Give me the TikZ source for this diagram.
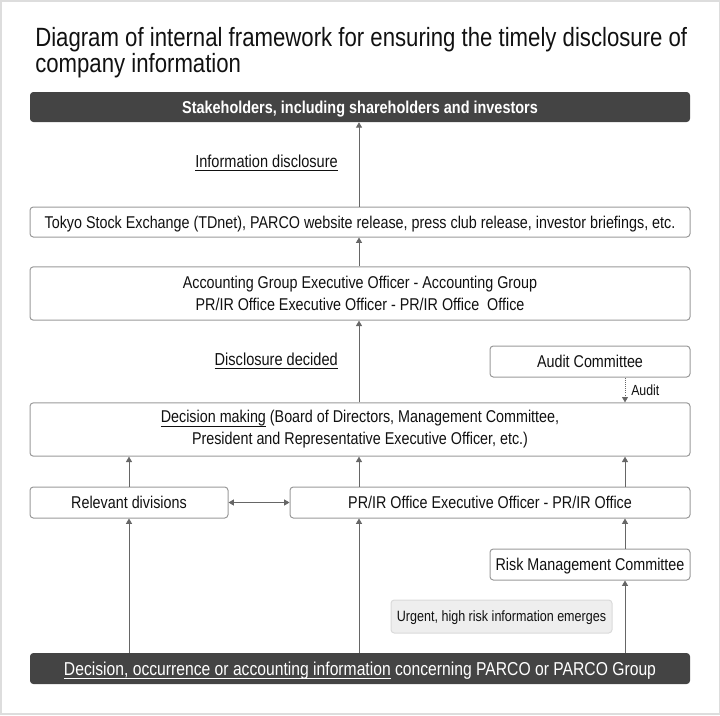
\documentclass[tikz,border=0pt]{standalone}
\usepackage{fontspec}
\setmainfont{Liberation Sans}[FakeStretch=0.84]
\usetikzlibrary{arrows.meta}
\definecolor{darkbar}{HTML}{444444}
\definecolor{boxline}{HTML}{9A9A9A}
\definecolor{arrline}{HTML}{666666}
\definecolor{frameline}{HTML}{DDDDDD}
\definecolor{urgentfill}{HTML}{EEEEEE}
\definecolor{urgentline}{HTML}{DADADA}
\definecolor{textcol}{HTML}{111111}
\newcommand{\myul}[1]{{\setbox0\hbox{#1}\rlap{\rule[-2.6pt]{\wd0}{0.6pt}}\box0}}
\begin{document}
\begin{tikzpicture}[x=0.75pt,y=-0.75pt,
  box/.style={draw=boxline,line width=0.75pt,rounded corners=2.5pt,fill=white,text=textcol,
    font=\fontsize{12.8pt}{16.5pt}\selectfont,inner sep=0pt,align=center},
  bar/.style={fill=darkbar,rounded corners=2.5pt,text=white,inner sep=0pt,align=center},
  oneline/.style={text depth=0pt},
  arr/.style={draw=arrline,line width=0.6pt,-{Triangle[width=4.5pt,length=4pt]}},
  lbl/.style={text=textcol,font=\fontsize{13pt}{14pt}\selectfont,inner sep=0pt}]
\useasboundingbox (0,0) rectangle (720,715);
\draw[frameline,line width=1.5pt] (0.5,0.5) rectangle (719.5,714);
\node[anchor=west,text=textcol,align=left,inner sep=0pt,font=\fontsize{19.8pt}{19.5pt}\selectfont]
  (title) at (35,53) {Diagram of internal framework for ensuring the timely disclosure of\\company information};
\node[bar,oneline,minimum width=495pt,minimum height=22.5pt,font=\fontsize{12.9pt}{14pt}\bfseries\selectfont] (top) at (360,107)
  {Stakeholders, including shareholders and investors};
\node[box,oneline,minimum width=495pt,minimum height=22.5pt] (tse) at (360,222)
  {Tokyo Stock Exchange (TDnet), PARCO website release, press club release, investor briefings, etc.};
\node[box,minimum width=495pt,minimum height=40pt] (acc) at (360,293.5)
  {Accounting Group Executive Officer - Accounting Group\\PR/IR Office Executive Officer - PR/IR Office\ \ Office};
\node[box,oneline,minimum width=150pt,minimum height=23.25pt] (audit) at (590,361.5) {Audit Committee};
\node[box,minimum width=495pt,minimum height=40pt] (dec) at (360,429.5)
  {\myul{Decision making} (Board of Directors, Management Committee,\\President and Representative Executive Officer, etc.)};
\node[box,oneline,minimum width=148.5pt,minimum height=23.25pt] (rel) at (129,502.5) {Relevant divisions};
\node[box,oneline,minimum width=300pt,minimum height=23.25pt] (prir) at (490,502.5) {PR/IR Office Executive Officer - PR/IR Office};
\node[box,oneline,minimum width=150pt,minimum height=23.25pt] (risk) at (590,564.5) {Risk Management Committee};
\node[box,oneline,draw=urgentline,fill=urgentfill,minimum width=165.75pt,minimum height=24.75pt,
  font=\fontsize{11.2pt}{12pt}\selectfont] (urg) at (501.5,616.5) {Urgent, high risk information emerges};
\node[bar,oneline,minimum width=495pt,minimum height=23.25pt,font=\fontsize{14pt}{16pt}\selectfont] (bot) at (360,668.5)
  {\myul{Decision, occurrence or accounting information} concerning PARCO or PARCO Group};
\coordinate (cl) at (129,0);
\coordinate (cm) at (359,0);
\coordinate (cr) at (625,0);
\node[lbl,anchor=east] (l1) at (338,163) {\myul{Information disclosure}};
\node[lbl,anchor=east] (l2) at (338,361) {\myul{Disclosure decided}};
\node[lbl,anchor=west,font=\fontsize{11pt}{12pt}\selectfont] (l3) at (631,390) {Audit};
% connectors
\draw[arr] (tse.north -| cm) -- (top.south -| cm);
\draw[arr] (acc.north -| cm) -- (tse.south -| cm);
\draw[arr] (dec.north -| cm) -- (acc.south -| cm);
\draw[arr,densely dotted] (audit.south -| cr) -- (dec.north -| cr);
\draw[arr] (rel.north -| cl) -- (dec.south -| cl);
\draw[arr] (prir.north -| cm) -- (dec.south -| cm);
\draw[arr] (prir.north -| cr) -- (dec.south -| cr);
\draw[arr,{Triangle[width=4.5pt,length=4pt]}-{Triangle[width=4.5pt,length=4pt]}] (rel.east) -- (prir.west);
\draw[arr] (bot.north -| cl) -- (rel.south -| cl);
\draw[arr] (bot.north -| cm) -- (prir.south -| cm);
\draw[arr] (risk.north -| cr) -- (prir.south -| cr);
\draw[arr] (bot.north -| cr) -- (risk.south -| cr);
\end{tikzpicture}
\end{document}
